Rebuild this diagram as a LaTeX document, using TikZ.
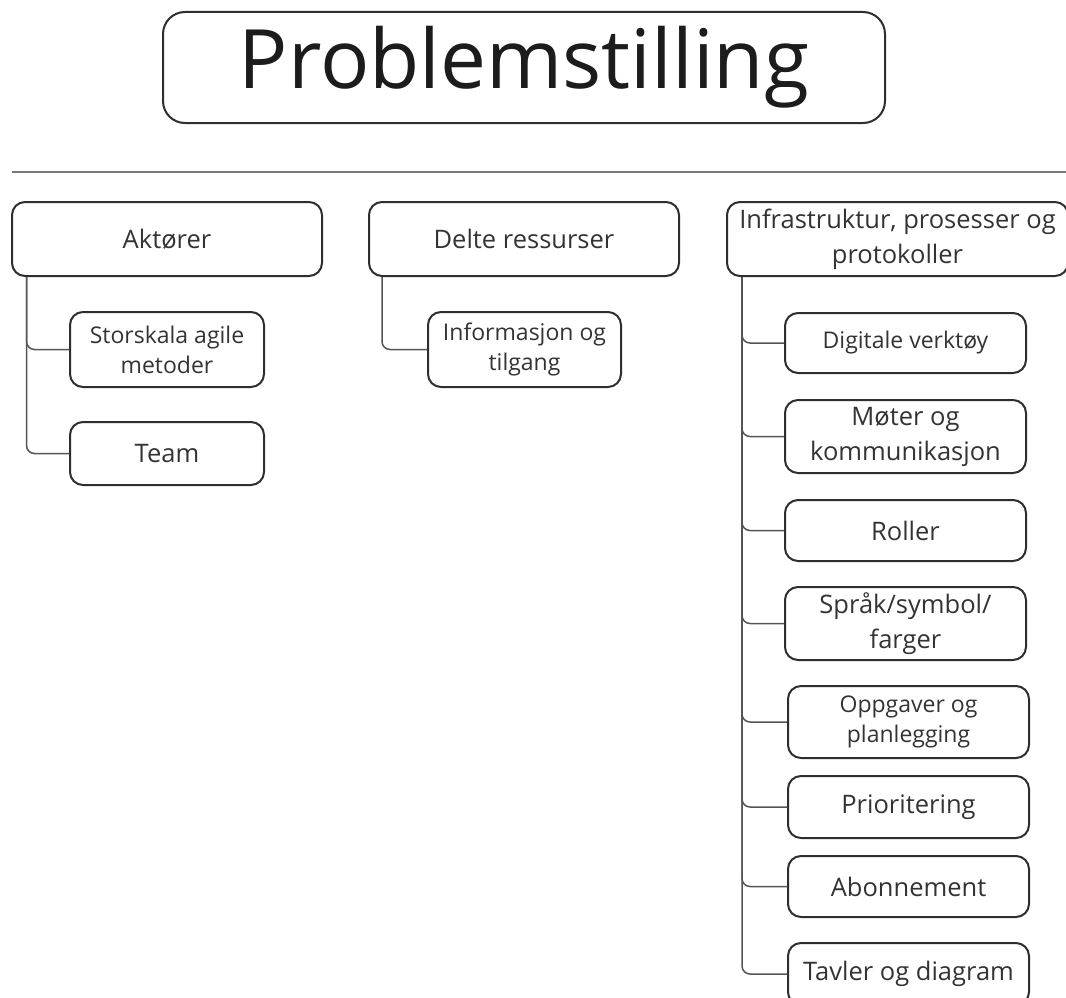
\documentclass[tikz,border=0pt]{standalone}
\usepackage{fontspec}
\setmainfont{Open Sans}
\definecolor{boxline}{HTML}{2E2E2E}
\definecolor{labeltext}{HTML}{333333}
\definecolor{titletext}{HTML}{1C1C1C}
\definecolor{linkline}{HTML}{555555}
\definecolor{rulegray}{HTML}{777777}
\begin{document}
\begin{tikzpicture}[x=1pt,y=-1pt,
  box/.style={draw=boxline, line width=2pt, rounded corners=13pt,
    text=labeltext, align=center, inner sep=0pt,
    font=\fontsize{25.5}{35}\selectfont},
  smalltext/.style={font=\fontsize{23}{30}\selectfont},
  titlebox/.style={draw=boxline, line width=2pt, rounded corners=22pt,
    text=titletext, inner sep=0pt,
    font=\fontsize{82}{98}\selectfont},
  link/.style={draw=linkline, line width=1.5pt, rounded corners=8pt},
  rule/.style={draw=rulegray, line width=2pt}]
\useasboundingbox (0,0) rectangle (1066,998);

% heading
\node[titlebox, minimum width=722pt, minimum height=111pt] (title) at (524,67.5) {Problemstilling};
\coordinate (ruleL) at (12,172);
\coordinate (ruleR) at (1066,172);
\draw[rule] (ruleL) -- (ruleR);

% top level categories
\node[box, minimum width=310pt, minimum height=74pt] (akt) at (167,239) {Aktører};
\node[box, minimum width=310pt, minimum height=74pt] (del) at (524,239) {Delte ressurser};
\node[box, minimum width=341pt, minimum height=74pt] (inf) at (897.5,239) {Infrastruktur, prosesser og\\protokoller};

% Aktører
\node[box, smalltext, minimum width=194pt, minimum height=75pt] (sto) at (167,349.5) {Storskala agile\\metoder};
\node[box, minimum width=194pt, minimum height=63pt] (team) at (167,453.5) {Team};

% Delte ressurser
\node[box, smalltext, minimum width=193pt, minimum height=75pt] (info) at (524.5,349.5) {Informasjon og\\tilgang};

% Infrastruktur, prosesser og protokoller
\node[box, smalltext, minimum width=241pt, minimum height=60pt] (dig) at (905.5,343) {Digitale verktøy};
\node[box, minimum width=241pt, minimum height=73pt] (mot) at (905.5,436.5) {Møter og\\kommunikasjon};
\node[box, minimum width=241pt, minimum height=61pt] (rol) at (905.5,530.5) {Roller};
\node[box, minimum width=241pt, minimum height=73pt] (spr) at (905.5,623.5) {Språk/symbol/\\farger};
\node[box, smalltext, minimum width=241pt, minimum height=72pt] (opp) at (908.5,722) {Oppgaver og\\planlegging};
\node[box, minimum width=241pt, minimum height=62pt] (pri) at (908.5,807) {Prioritering};
\node[box, minimum width=241pt, minimum height=61pt] (abo) at (908.5,886.5) {Abonnement};
\node[box, minimum width=241pt, minimum height=62pt] (tav) at (908.5,974) {Tavler og diagram};

% tree connectors
\draw[link] ([xshift=15.5pt]akt.south west) |- (sto.west);
\draw[link] ([xshift=15.5pt]akt.south west) |- (team.west);
\draw[link] ([xshift=14pt]del.south west) |- (info.west);
\foreach \c in {dig,mot,rol,spr,opp,pri,abo,tav}{
  \draw[link] ([xshift=16pt]inf.south west) |- (\c.west);
}
\end{tikzpicture}
\end{document}
